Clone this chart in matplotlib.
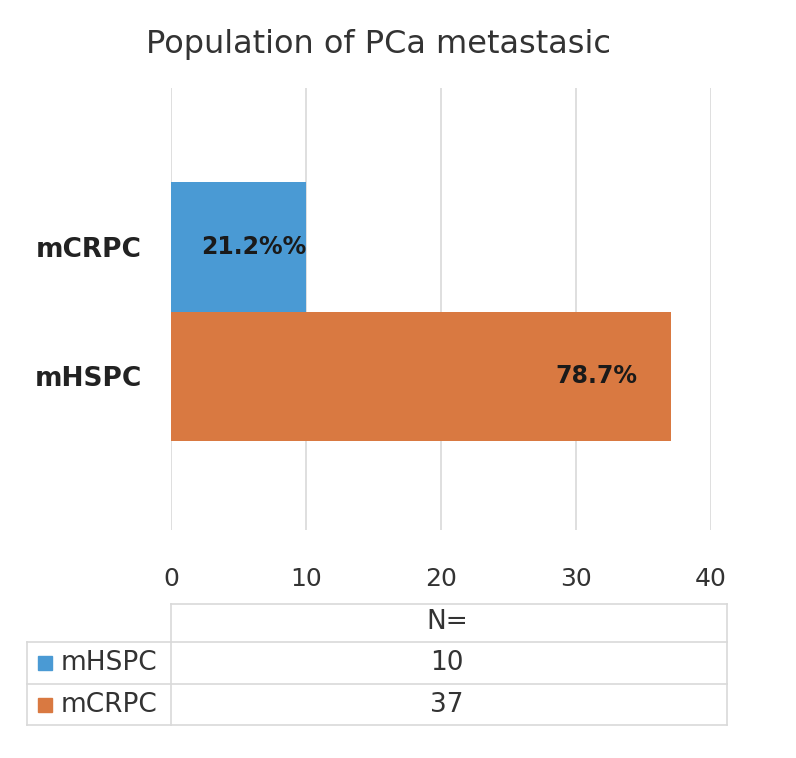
import matplotlib
matplotlib.use("Agg")
import matplotlib.pyplot as plt
from matplotlib.lines import Line2D
from matplotlib.patches import Rectangle

plt.rcParams['font.family'] = ['DejaVu Sans']

title = "Population of PCa metastasic"
categories = ["mHSPC", "mCRPC"]          # bottom to top
values = [37, 10]
bar_labels = ["78.7%", "21.2%%"]
bar_colors = ["#d97941", "#4a9ad4"]
xticks = [0, 10, 20, 30, 40]

table_header = "N="
table_rows = ["mHSPC", "mCRPC"]
table_values = [10, 37]
table_colors = ["#4a9ad4", "#d97941"]

W, H = 796, 758
fig = plt.figure(figsize=(W / 100, H / 100), dpi=100)
ax = fig.add_axes([171 / W, 1 - 530 / H, (711 - 171) / W, (530 - 88) / H])

ypos = list(range(len(categories)))
bars = ax.barh(ypos, values, height=1.0, color=bar_colors, zorder=2)
ax.set_xlim(0, 40)
ax.set_ylim(-1.19, 2.23)
ax.set_xticks(xticks)
ax.set_xticklabels([str(t) for t in xticks], fontsize=18, color="#333333")
ax.set_yticks(ypos)
ax.set_yticklabels(categories, fontsize=19, fontweight="bold", color="#222222")
ax.tick_params(axis="both", length=0)
ax.tick_params(axis="x", pad=27)
ax.tick_params(axis="y", pad=21)
for s in ax.spines.values():
    s.set_visible(False)
ax.grid(axis="x", color="#d9d9d9", linewidth=1.2, zorder=0)

# bar labels
ax.text(values[0] - 2.45, ypos[0], bar_labels[0], ha="right", va="center",
        fontsize=17, fontweight="bold", color="#1a1a1a", zorder=3)
ax.text(values[1], ypos[1], bar_labels[1], ha="right", va="center",
        fontsize=17, fontweight="bold", color="#1a1a1a", zorder=3)

fig.text(378 / W, 1 - 45 / H, title, ha="center", va="center", fontsize=23, color="#333333")

# data table
def fx(x):
    return x / W

def fy(y):
    return 1 - y / H

gc = "#d9d9d9"
lw = 1.2
lines = [
    ((171, 604), (727, 604)),
    ((171, 642), (727, 642)),
    ((27, 642), (171, 642)),
    ((27, 684), (727, 684)),
    ((27, 725), (727, 725)),
    ((171, 604), (171, 725)),
    ((727, 604), (727, 725)),
    ((27, 642), (27, 725)),
]
for (x0, y0), (x1, y1) in lines:
    fig.add_artist(Line2D([fx(x0), fx(x1)], [fy(y0), fy(y1)], color=gc, linewidth=lw))

fig.text(fx(447), fy(622), table_header, ha="center", va="center", fontsize=19, color="#333333")
row_y = [663, 705]
for name, val, col, yy in zip(table_rows, table_values, table_colors, row_y):
    fig.add_artist(Rectangle((fx(38), fy(yy + 7)), fx(14), 14 / H, color=col))
    fig.text(fx(61), fy(yy), name, ha="left", va="center", fontsize=19, color="#333333")
    fig.text(fx(447), fy(yy), str(val), ha="center", va="center", fontsize=19, color="#333333")

fig.savefig("out.png", dpi=100)
